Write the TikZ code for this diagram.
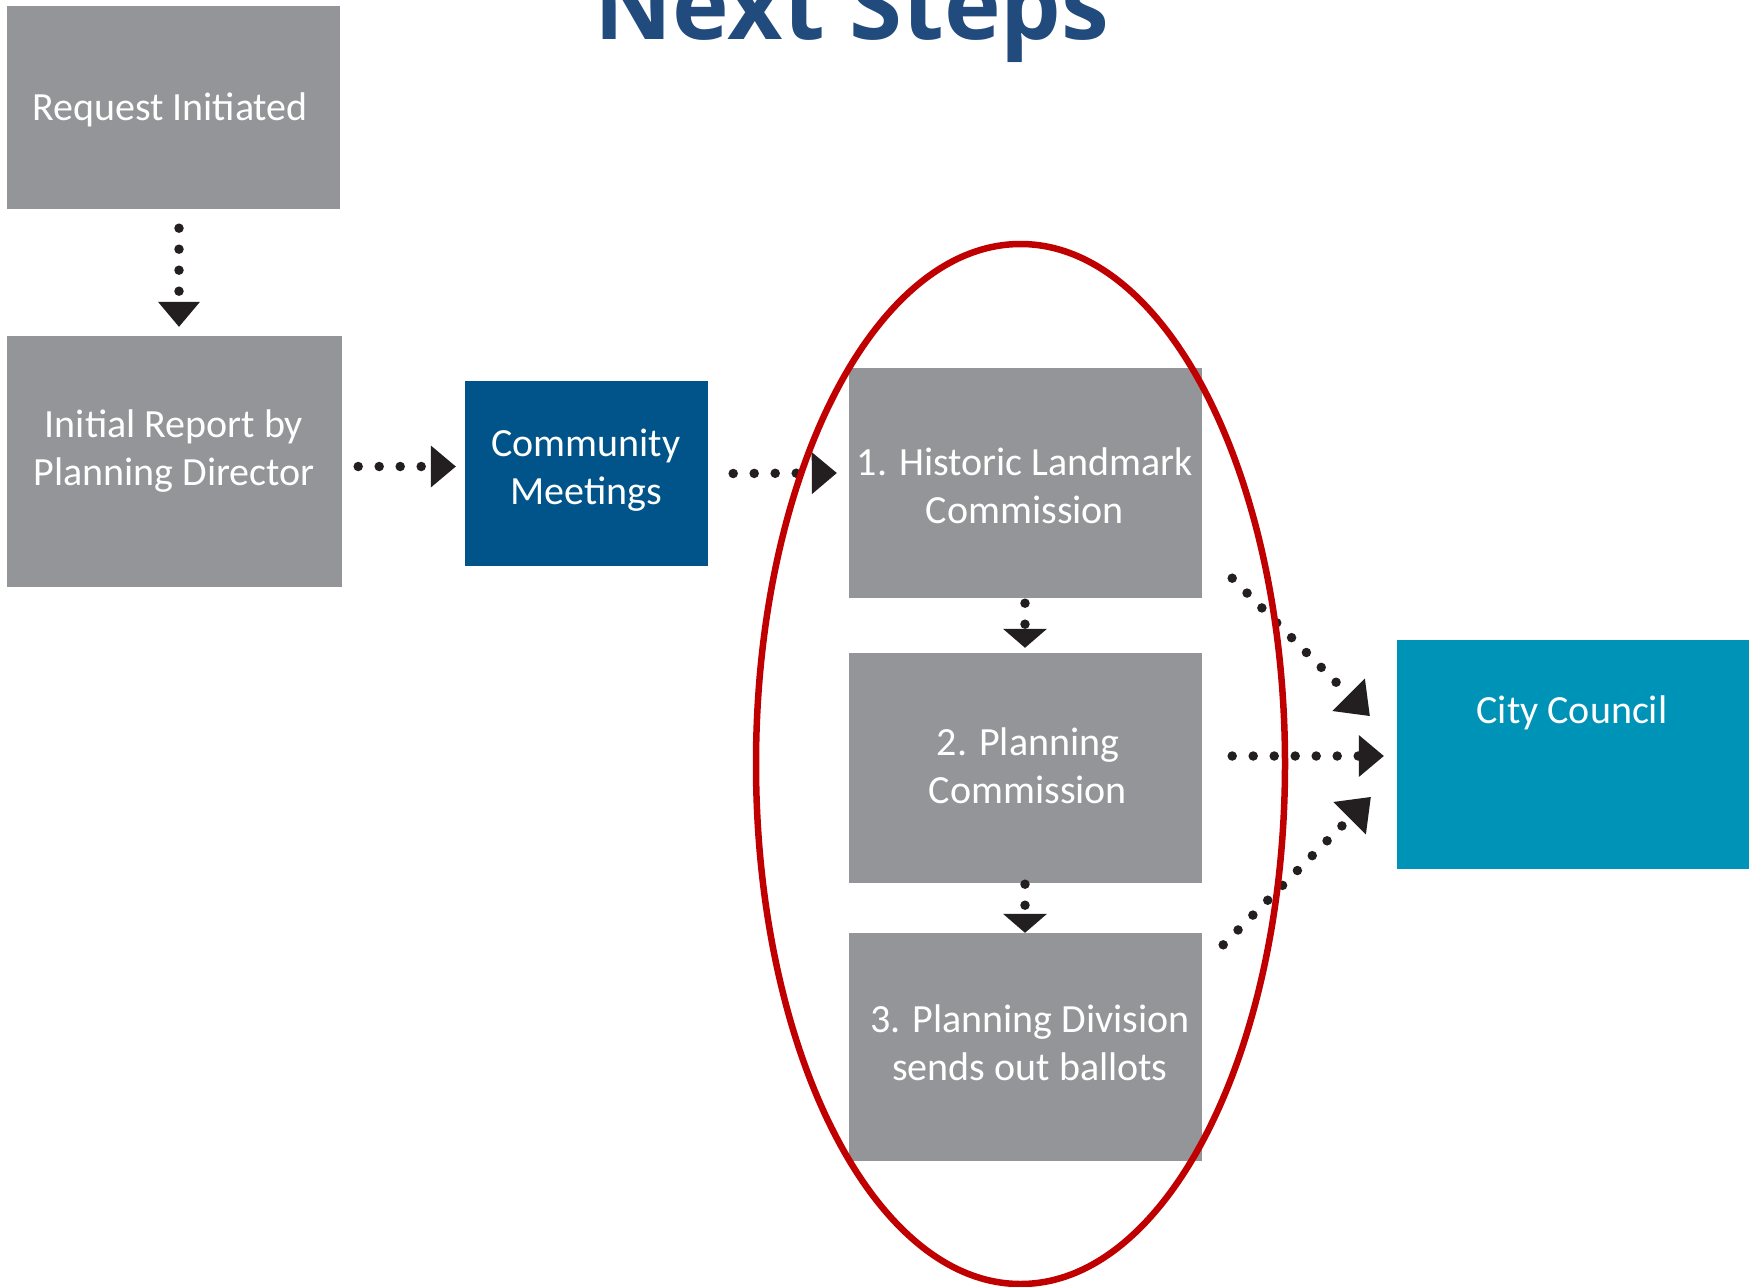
\documentclass[tikz,border=0pt]{standalone}
\usepackage{fontspec}
\usetikzlibrary{arrows.meta}
\newfontfamily\boxfont{Carlito}
\newfontfamily\titlefont{Open Sans}
\definecolor{boxgray}{RGB}{147,149,152}
\definecolor{commblue}{RGB}{0,84,138}
\definecolor{ccteal}{RGB}{0,147,184}
\definecolor{titleblue}{RGB}{33,74,125}
\definecolor{ringred}{RGB}{192,0,0}
\definecolor{arrowblack}{RGB}{35,31,32}
\tikzset{
  box/.style={rectangle, inner sep=0pt, draw=none},
  lbl/.style={text=white, align=center, inner sep=0pt, font={\boxfont\fontsize{40}{48}\selectfont}},
  dotline/.style={draw=arrowblack, line width=9.5pt, line cap=round, dash pattern=on 0pt off 21pt},
  bigtip/.style={-{Triangle[length=25pt,width=42pt,line width=0pt,round=false]}},
  smalltip/.style={-{Triangle[length=19pt,width=44pt,line width=0pt,round=false]}},
  diagtip/.style={-{Triangle[length=30pt,width=46pt,line width=0pt,round=false]}},
}
\begin{document}
\begin{tikzpicture}[x=1pt,y=-1pt]
\useasboundingbox[fill=white] (0,0) rectangle (1756,1287);
% boxes
\node[box, fill=boxgray, minimum width=333pt, minimum height=203pt] (req) at (173.5,107.5) {};
\node[box, fill=boxgray, minimum width=335pt, minimum height=251pt] (init) at (174.5,461.5) {};
\node[box, fill=commblue, minimum width=243pt, minimum height=185pt] (comm) at (586.5,473.5) {};
\node[box, fill=boxgray, minimum width=353pt, minimum height=230pt] (hist) at (1025.5,483) {};
\node[box, fill=boxgray, minimum width=353pt, minimum height=230pt] (plan) at (1025.5,768) {};
\node[box, fill=boxgray, minimum width=353pt, minimum height=228pt] (div) at (1025.5,1047) {};
\node[box, fill=ccteal, minimum width=352pt, minimum height=229pt] (cc) at (1573,754.5) {};
% labels
\node[lbl] (reqt) at (170,110) {Request Initiated};
\node[lbl] (initt) at (174,451) {Initial Report by\\Planning Director};
\node[lbl] (commt) at (586,470) {Community\\Meetings};
\node[lbl] (histt) at (1025,486) {1. Historic Landmark\\Commission};
\node[lbl] (plant) at (1028,766) {2. Planning\\Commission};
\node[lbl] (divt) at (1030,1043) {3. Planning Division\\sends out ballots};
\node[lbl] (cct) at (1572,713) {City Council};
% title
\node[anchor=base, inner sep=0pt, text=titleblue, font={\titlefont\bfseries\fontsize{96}{110}\selectfont}] (title) at (852,40) {Next Steps};
% arrows
\draw[dotline, bigtip] ([xshift=5.5pt,yshift=-19pt]req.south) -- ([xshift=4.5pt,yshift=9pt]init.north);
\draw[dotline, bigtip] ([xshift=16pt,yshift=-5pt]init.east) -- ([xshift=-9pt,yshift=7pt]comm.west);
\draw[dotline, bigtip] ([xshift=25pt,yshift=0pt]comm.east) -- ([xshift=-12pt,yshift=10pt]hist.west);
\draw[dotline, smalltip] ([xshift=-0.5pt,yshift=-5pt]hist.south) -- ([xshift=-0.5pt,yshift=5pt]plan.north);
\draw[dotline, smalltip] ([xshift=-0.5pt,yshift=-1pt]plan.south) -- ([xshift=-0.5pt,yshift=0pt]div.north);
\draw[dotline, diagtip] ([xshift=30pt,yshift=20pt]hist.south east) -- ([xshift=-27pt,yshift=38.5pt]cc.west);
\draw[dotline, bigtip] ([xshift=30pt,yshift=12pt]plan.east) -- ([xshift=-13pt,yshift=-1.5pt]cc.west);
\draw[dotline, diagtip] ([xshift=21pt,yshift=-12pt]div.north east) -- ([xshift=-26pt,yshift=-42.5pt]cc.west);
% ring
\draw[ringred, line width=6.5pt] (1020.5,764) ellipse [x radius=264.5, y radius=520];
\end{tikzpicture}
\end{document}
